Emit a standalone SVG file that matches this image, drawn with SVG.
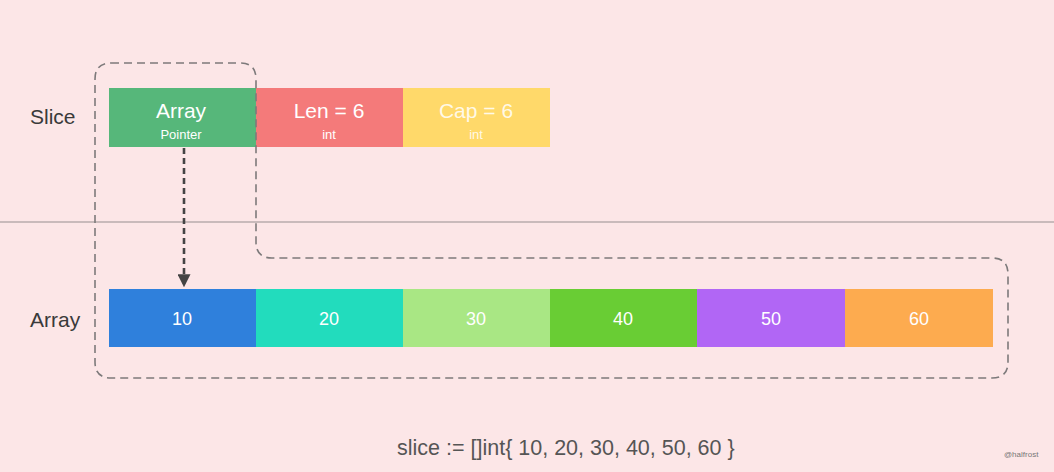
<svg xmlns="http://www.w3.org/2000/svg" width="1054" height="472" viewBox="0 0 1054 472">
<defs>
<style>
.lbl{font-family:"Liberation Sans",Arial,sans-serif;font-size:21px;fill:#3a3a3a}
.big{font-family:"Liberation Sans",Arial,sans-serif;font-size:21px;fill:#ffffff;text-anchor:middle}
.small{font-family:"Liberation Sans",Arial,sans-serif;font-size:13px;fill:#ffffff;text-anchor:middle}
.num{font-family:"Liberation Sans",Arial,sans-serif;font-size:18px;fill:#ffffff;text-anchor:middle}
.outline{fill:none;stroke:#7d7a7b;stroke-width:1.6;stroke-dasharray:8 5}
.ptr{fill:none;stroke:#444;stroke-width:2.6;stroke-dasharray:6 4}
</style>
<marker id="ah" viewBox="0 0 10 10" refX="9" refY="5" markerWidth="5" markerHeight="5" orient="auto" markerUnits="strokeWidth">
<path d="M0,0 L10,5 L0,10 z" fill="#444"/>
</marker>
</defs>
<rect width="1054" height="472" fill="#fce6e7"/>
<line x1="0" y1="222" x2="1054" y2="222" stroke="#c9babb" stroke-width="2"/>
<text class="lbl" x="30" y="124">Slice</text>
<text class="lbl" x="30" y="327">Array</text>
<g id="slice-array">
<rect x="109" y="88" width="147" height="59" fill="#56b77a"/>
<text class="big" x="181" y="118">Array</text>
<text class="small" x="181" y="139">Pointer</text>
</g>
<g id="slice-len">
<rect x="256" y="88" width="147" height="59" fill="#f47a7a"/>
<text class="big" x="329" y="118">Len = 6</text>
<text class="small" x="329" y="139">int</text>
</g>
<g id="slice-cap">
<rect x="403" y="88" width="147" height="59" fill="#ffd96a"/>
<text class="big" x="476" y="118" fill-opacity="0.85">Cap = 6</text>
<text class="small" x="476" y="139" fill-opacity="0.85">int</text>
</g>
<g id="arr-10"><rect x="109" y="289" width="147" height="58" fill="#2f80dc"/><text class="num" x="182" y="325">10</text></g>
<g id="arr-20"><rect x="256" y="289" width="147" height="58" fill="#22dcbd"/><text class="num" x="329" y="325">20</text></g>
<g id="arr-30"><rect x="403" y="289" width="147" height="58" fill="#a9e784"/><text class="num" x="476" y="325">30</text></g>
<g id="arr-40"><rect x="550" y="289" width="147" height="58" fill="#69cd34"/><text class="num" x="623" y="325">40</text></g>
<g id="arr-50"><rect x="697" y="289" width="148" height="58" fill="#b166f5"/><text class="num" x="771" y="325">50</text></g>
<g id="arr-60"><rect x="845" y="289" width="148" height="58" fill="#fdab4f"/><text class="num" x="919" y="325">60</text></g>
<g id="connectors">
<path class="outline" d="M111 63 H240 Q256 63 256 79 V242 Q256 258 272 258 H992 Q1008 258 1008 274 V362 Q1008 378 992 378 H111 Q95 378 95 362 V79 Q95 63 111 63 Z"/>
<path class="ptr" d="M184 148 V286" marker-end="url(#ah)"/>
</g>
<text x="397" y="455" font-family="'Liberation Sans',Arial,sans-serif" font-size="21.5" fill="#555">slice := []int{ 10, 20, 30, 40, 50, 60 }</text>
<text x="1004" y="457" font-family="'Liberation Sans',Arial,sans-serif" font-size="8" fill="#777">@halfrost</text>
</svg>
